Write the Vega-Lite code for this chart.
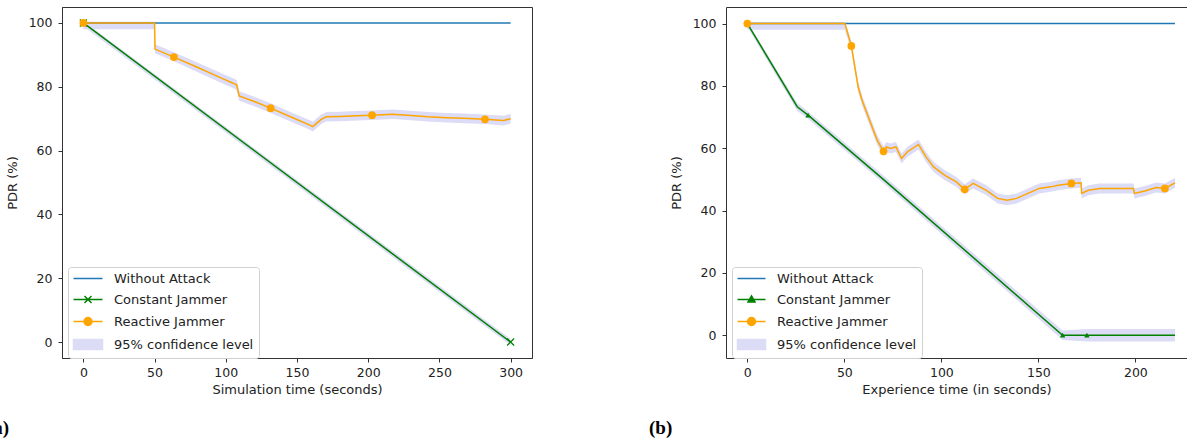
{
  "$schema": "https://vega.github.io/schema/vega-lite/v6.json",
  "padding": {"left": -14, "top": 6, "right": 0, "bottom": 0},
  "bounds": "flush",
  "spacing": 194,
  "background": "white",
  "config": {
    "font": "DejaVu Sans",
    "view": {"stroke": "#333333", "strokeWidth": 1},
    "axis": {"grid": false, "labelFont": "DejaVu Sans", "labelFontSize": 12.5, "labelColor": "#222222", "titleFont": "DejaVu Sans", "titleFontSize": 13, "titleFontWeight": "normal", "titleColor": "#222222", "tickColor": "#333333", "domainColor": "#333333", "tickSize": 4},
    "axisX": {"labelPadding": 4, "titlePadding": 5},
    "axisY": {"labelPadding": 6, "titlePadding": 9},
    "legend": {"labelFont": "DejaVu Sans", "labelFontSize": 13, "labelColor": "#222222", "fillColor": "white", "strokeColor": "#d0d0d0", "cornerRadius": 3, "padding": 5, "rowPadding": 7, "symbolSize": 100, "labelLimit": 300}
  },
  "resolve": {"scale": {"color": "independent", "x": "independent", "y": "independent"}, "legend": {"color": "independent"}},
  "datasets": {
    "a_lines": [
      {"s": "Without Attack", "t": 0, "pdr": 100}, {"s": "Without Attack", "t": 300, "pdr": 100},
      {"s": "Constant Jammer", "t": 0, "pdr": 100}, {"s": "Constant Jammer", "t": 300, "pdr": 0},
      {"s": "Reactive Jammer", "t": 0, "pdr": 100}, {"s": "Reactive Jammer", "t": 50, "pdr": 100},
      {"s": "Reactive Jammer", "t": 50.3, "pdr": 91.8}, {"s": "Reactive Jammer", "t": 63.6, "pdr": 89.3},
      {"s": "Reactive Jammer", "t": 80, "pdr": 86.1}, {"s": "Reactive Jammer", "t": 95, "pdr": 83.1},
      {"s": "Reactive Jammer", "t": 107.6, "pdr": 80.6}, {"s": "Reactive Jammer", "t": 109.4, "pdr": 77.1},
      {"s": "Reactive Jammer", "t": 120, "pdr": 75.4}, {"s": "Reactive Jammer", "t": 131.5, "pdr": 73.3},
      {"s": "Reactive Jammer", "t": 145, "pdr": 70.7}, {"s": "Reactive Jammer", "t": 159, "pdr": 68},
      {"s": "Reactive Jammer", "t": 161, "pdr": 67.5}, {"s": "Reactive Jammer", "t": 167, "pdr": 69.8},
      {"s": "Reactive Jammer", "t": 170.5, "pdr": 70.6}, {"s": "Reactive Jammer", "t": 180, "pdr": 70.7},
      {"s": "Reactive Jammer", "t": 192, "pdr": 70.9}, {"s": "Reactive Jammer", "t": 202.7, "pdr": 71.1},
      {"s": "Reactive Jammer", "t": 217, "pdr": 71.4}, {"s": "Reactive Jammer", "t": 230, "pdr": 71},
      {"s": "Reactive Jammer", "t": 242, "pdr": 70.6}, {"s": "Reactive Jammer", "t": 255, "pdr": 70.3},
      {"s": "Reactive Jammer", "t": 267, "pdr": 70.1}, {"s": "Reactive Jammer", "t": 282, "pdr": 69.8},
      {"s": "Reactive Jammer", "t": 295, "pdr": 69.4}, {"s": "Reactive Jammer", "t": 300, "pdr": 70}
    ],
    "a_band": [
      {"s": "Constant Jammer", "t": 0, "lo": 99, "hi": 100.6}, {"s": "Constant Jammer", "t": 300, "lo": -1, "hi": 1},
      {"s": "Reactive Jammer", "t": 0, "lo": 98, "hi": 100.4}, {"s": "Reactive Jammer", "t": 50, "lo": 98, "hi": 100.4},
      {"s": "Reactive Jammer", "t": 50.3, "lo": 90.5, "hi": 93.3}, {"s": "Reactive Jammer", "t": 63.6, "lo": 88, "hi": 90.8},
      {"s": "Reactive Jammer", "t": 80, "lo": 84.6, "hi": 87.6}, {"s": "Reactive Jammer", "t": 95, "lo": 81.6, "hi": 84.6},
      {"s": "Reactive Jammer", "t": 107.6, "lo": 79.1, "hi": 82.2}, {"s": "Reactive Jammer", "t": 109.4, "lo": 75.6, "hi": 78.6},
      {"s": "Reactive Jammer", "t": 120, "lo": 73.9, "hi": 76.9}, {"s": "Reactive Jammer", "t": 131.5, "lo": 71.8, "hi": 74.8},
      {"s": "Reactive Jammer", "t": 145, "lo": 69.2, "hi": 72.2}, {"s": "Reactive Jammer", "t": 159, "lo": 66.5, "hi": 69.5},
      {"s": "Reactive Jammer", "t": 161, "lo": 66, "hi": 69}, {"s": "Reactive Jammer", "t": 167, "lo": 68.3, "hi": 71.3},
      {"s": "Reactive Jammer", "t": 170.5, "lo": 69.1, "hi": 72.1}, {"s": "Reactive Jammer", "t": 180, "lo": 69.2, "hi": 72.2},
      {"s": "Reactive Jammer", "t": 192, "lo": 69.4, "hi": 72.4}, {"s": "Reactive Jammer", "t": 202.7, "lo": 69.6, "hi": 72.6},
      {"s": "Reactive Jammer", "t": 217, "lo": 69.9, "hi": 72.9}, {"s": "Reactive Jammer", "t": 230, "lo": 69.5, "hi": 72.5},
      {"s": "Reactive Jammer", "t": 242, "lo": 69.1, "hi": 72.1}, {"s": "Reactive Jammer", "t": 255, "lo": 68.8, "hi": 71.8},
      {"s": "Reactive Jammer", "t": 267, "lo": 68.6, "hi": 71.6}, {"s": "Reactive Jammer", "t": 282, "lo": 68.3, "hi": 71.3},
      {"s": "Reactive Jammer", "t": 295, "lo": 67.9, "hi": 70.9}, {"s": "Reactive Jammer", "t": 300, "lo": 68.5, "hi": 71.5}
    ],
    "a_marks": [
      {"s": "Constant Jammer", "t": 0, "pdr": 100}, {"s": "Constant Jammer", "t": 300, "pdr": 0},
      {"s": "Reactive Jammer", "t": 0, "pdr": 100}, {"s": "Reactive Jammer", "t": 63.6, "pdr": 89.3},
      {"s": "Reactive Jammer", "t": 131.5, "pdr": 73.3}, {"s": "Reactive Jammer", "t": 202.7, "pdr": 71.1},
      {"s": "Reactive Jammer", "t": 282, "pdr": 69.8}
    ],
    "b_lines": [
      {"s": "Without Attack", "t": 0, "pdr": 100}, {"s": "Without Attack", "t": 220.4, "pdr": 100},
      {"s": "Constant Jammer", "t": 0, "pdr": 100}, {"s": "Constant Jammer", "t": 25.7, "pdr": 73.3},
      {"s": "Constant Jammer", "t": 31.3, "pdr": 70.6}, {"s": "Constant Jammer", "t": 70.7, "pdr": 49.7},
      {"s": "Constant Jammer", "t": 162.5, "pdr": 0}, {"s": "Constant Jammer", "t": 175, "pdr": 0},
      {"s": "Constant Jammer", "t": 220.4, "pdr": 0},
      {"s": "Reactive Jammer", "t": 0, "pdr": 100}, {"s": "Reactive Jammer", "t": 50.3, "pdr": 100},
      {"s": "Reactive Jammer", "t": 53.6, "pdr": 92.8}, {"s": "Reactive Jammer", "t": 57.1, "pdr": 79.7},
      {"s": "Reactive Jammer", "t": 59.1, "pdr": 75.4}, {"s": "Reactive Jammer", "t": 63, "pdr": 69},
      {"s": "Reactive Jammer", "t": 66.9, "pdr": 62.6}, {"s": "Reactive Jammer", "t": 70.2, "pdr": 59},
      {"s": "Reactive Jammer", "t": 71.7, "pdr": 60.4}, {"s": "Reactive Jammer", "t": 73.7, "pdr": 59.9},
      {"s": "Reactive Jammer", "t": 76.6, "pdr": 60.4}, {"s": "Reactive Jammer", "t": 79.5, "pdr": 56.7},
      {"s": "Reactive Jammer", "t": 82.4, "pdr": 58.8}, {"s": "Reactive Jammer", "t": 88.2, "pdr": 61.2},
      {"s": "Reactive Jammer", "t": 92.1, "pdr": 57.2}, {"s": "Reactive Jammer", "t": 96, "pdr": 54},
      {"s": "Reactive Jammer", "t": 101.8, "pdr": 51.3}, {"s": "Reactive Jammer", "t": 107.7, "pdr": 49.2},
      {"s": "Reactive Jammer", "t": 112, "pdr": 46.8}, {"s": "Reactive Jammer", "t": 116.4, "pdr": 48.7},
      {"s": "Reactive Jammer", "t": 123.2, "pdr": 46.5}, {"s": "Reactive Jammer", "t": 129, "pdr": 43.9},
      {"s": "Reactive Jammer", "t": 133.9, "pdr": 43.3}, {"s": "Reactive Jammer", "t": 138.8, "pdr": 43.9},
      {"s": "Reactive Jammer", "t": 144.6, "pdr": 45.5}, {"s": "Reactive Jammer", "t": 150.4, "pdr": 47.1},
      {"s": "Reactive Jammer", "t": 156.3, "pdr": 47.6}, {"s": "Reactive Jammer", "t": 160.2, "pdr": 48.1},
      {"s": "Reactive Jammer", "t": 167, "pdr": 48.7}, {"s": "Reactive Jammer", "t": 172, "pdr": 48.9},
      {"s": "Reactive Jammer", "t": 172.3, "pdr": 45.5}, {"s": "Reactive Jammer", "t": 175.7, "pdr": 46.5},
      {"s": "Reactive Jammer", "t": 181.5, "pdr": 47.1}, {"s": "Reactive Jammer", "t": 187.4, "pdr": 47.1},
      {"s": "Reactive Jammer", "t": 199, "pdr": 47.1}, {"s": "Reactive Jammer", "t": 199.5, "pdr": 45.5},
      {"s": "Reactive Jammer", "t": 204.9, "pdr": 46.3}, {"s": "Reactive Jammer", "t": 210.7, "pdr": 47.4},
      {"s": "Reactive Jammer", "t": 215.2, "pdr": 47.1}, {"s": "Reactive Jammer", "t": 220.4, "pdr": 48.9}
    ],
    "b_band": [
      {"s": "Constant Jammer", "t": 0, "lo": 99, "hi": 100.6}, {"s": "Constant Jammer", "t": 25.7, "lo": 72, "hi": 74.5},
      {"s": "Constant Jammer", "t": 31.3, "lo": 69.4, "hi": 71.8}, {"s": "Constant Jammer", "t": 70.7, "lo": 48.5, "hi": 50.9},
      {"s": "Constant Jammer", "t": 162.5, "lo": -1.5, "hi": 1.5}, {"s": "Constant Jammer", "t": 175, "lo": -2, "hi": 2},
      {"s": "Constant Jammer", "t": 220.4, "lo": -2, "hi": 2},
      {"s": "Reactive Jammer", "t": 0, "lo": 98, "hi": 100.4}, {"s": "Reactive Jammer", "t": 50.3, "lo": 98, "hi": 100.4},
      {"s": "Reactive Jammer", "t": 53.6, "lo": 91.2, "hi": 94.4}, {"s": "Reactive Jammer", "t": 57.1, "lo": 78.1, "hi": 81.3},
      {"s": "Reactive Jammer", "t": 59.1, "lo": 73.8, "hi": 77}, {"s": "Reactive Jammer", "t": 63, "lo": 67.4, "hi": 70.6},
      {"s": "Reactive Jammer", "t": 66.9, "lo": 61, "hi": 64.2}, {"s": "Reactive Jammer", "t": 70.2, "lo": 57.4, "hi": 60.6},
      {"s": "Reactive Jammer", "t": 71.7, "lo": 58.8, "hi": 62}, {"s": "Reactive Jammer", "t": 73.7, "lo": 58.3, "hi": 61.5},
      {"s": "Reactive Jammer", "t": 76.6, "lo": 58.8, "hi": 62}, {"s": "Reactive Jammer", "t": 79.5, "lo": 55.1, "hi": 58.3},
      {"s": "Reactive Jammer", "t": 82.4, "lo": 57.2, "hi": 60.4}, {"s": "Reactive Jammer", "t": 88.2, "lo": 59.6, "hi": 62.8},
      {"s": "Reactive Jammer", "t": 92.1, "lo": 55.6, "hi": 58.8}, {"s": "Reactive Jammer", "t": 96, "lo": 52.4, "hi": 55.6},
      {"s": "Reactive Jammer", "t": 101.8, "lo": 49.7, "hi": 52.9}, {"s": "Reactive Jammer", "t": 107.7, "lo": 47.6, "hi": 50.8},
      {"s": "Reactive Jammer", "t": 112, "lo": 45.2, "hi": 48.4}, {"s": "Reactive Jammer", "t": 116.4, "lo": 47.1, "hi": 50.3},
      {"s": "Reactive Jammer", "t": 123.2, "lo": 44.9, "hi": 48.1}, {"s": "Reactive Jammer", "t": 129, "lo": 42.3, "hi": 45.5},
      {"s": "Reactive Jammer", "t": 133.9, "lo": 41.7, "hi": 44.9}, {"s": "Reactive Jammer", "t": 138.8, "lo": 42.3, "hi": 45.5},
      {"s": "Reactive Jammer", "t": 144.6, "lo": 43.9, "hi": 47.1}, {"s": "Reactive Jammer", "t": 150.4, "lo": 45.5, "hi": 48.7},
      {"s": "Reactive Jammer", "t": 156.3, "lo": 46, "hi": 49.2}, {"s": "Reactive Jammer", "t": 160.2, "lo": 46.5, "hi": 49.7},
      {"s": "Reactive Jammer", "t": 167, "lo": 47.1, "hi": 50.3}, {"s": "Reactive Jammer", "t": 172, "lo": 47.3, "hi": 50.5},
      {"s": "Reactive Jammer", "t": 172.3, "lo": 43.9, "hi": 47.1}, {"s": "Reactive Jammer", "t": 175.7, "lo": 44.9, "hi": 48.1},
      {"s": "Reactive Jammer", "t": 181.5, "lo": 45.5, "hi": 48.7}, {"s": "Reactive Jammer", "t": 187.4, "lo": 45.5, "hi": 48.7},
      {"s": "Reactive Jammer", "t": 199, "lo": 45.5, "hi": 48.7}, {"s": "Reactive Jammer", "t": 199.5, "lo": 43.9, "hi": 47.1},
      {"s": "Reactive Jammer", "t": 204.9, "lo": 44.7, "hi": 47.9}, {"s": "Reactive Jammer", "t": 210.7, "lo": 45.8, "hi": 49},
      {"s": "Reactive Jammer", "t": 215.2, "lo": 45.5, "hi": 48.7}, {"s": "Reactive Jammer", "t": 220.4, "lo": 47.3, "hi": 50.5}
    ],
    "b_marks": [
      {"s": "Constant Jammer", "t": 0, "pdr": 100}, {"s": "Constant Jammer", "t": 31.3, "pdr": 70.6},
      {"s": "Constant Jammer", "t": 162.5, "pdr": 0}, {"s": "Constant Jammer", "t": 175, "pdr": 0},
      {"s": "Reactive Jammer", "t": 0, "pdr": 100}, {"s": "Reactive Jammer", "t": 53.6, "pdr": 92.8},
      {"s": "Reactive Jammer", "t": 70.2, "pdr": 59}, {"s": "Reactive Jammer", "t": 112, "pdr": 46.8},
      {"s": "Reactive Jammer", "t": 167, "pdr": 48.7}, {"s": "Reactive Jammer", "t": 215.2, "pdr": 47.1}
    ]
  },
  "hconcat": [
    {
      "width": 470,
      "height": 351,
      "title": {"text": "(a)", "orient": "bottom", "anchor": "start", "frame": "group", "dx": -75, "offset": 22, "font": "Liberation Serif", "fontSize": 19, "fontWeight": "bold", "color": "#000000"},
      "layer": [
        {
          "data": {"name": "a_band"},
          "mark": {"type": "area", "color": "#dcdcf6", "opacity": 1},
          "encoding": {
            "x": {"field": "t", "type": "quantitative", "scale": {"domain": [-15, 315], "nice": false, "zero": false}, "axis": {"values": [0, 50, 100, 150, 200, 250, 300], "title": "Simulation time (seconds)"}},
            "y": {"field": "lo", "type": "quantitative", "scale": {"domain": [-5, 105], "nice": false, "zero": false}, "axis": {"values": [0, 20, 40, 60, 80, 100], "title": "PDR (%)"}},
            "y2": {"field": "hi"},
            "detail": {"field": "s", "type": "nominal"}
          }
        },
        {
          "data": {"name": "a_lines"},
          "mark": {"type": "line", "strokeWidth": 1.5},
          "encoding": {
            "x": {"field": "t", "type": "quantitative", "scale": {"domain": [-15, 315], "nice": false, "zero": false}, "axis": {"values": [0, 50, 100, 150, 200, 250, 300], "title": "Simulation time (seconds)"}},
            "y": {"field": "pdr", "type": "quantitative", "scale": {"domain": [-5, 105], "nice": false, "zero": false}, "axis": {"values": [0, 20, 40, 60, 80, 100], "title": "PDR (%)"}},
            "color": {
              "field": "s", "type": "nominal",
              "scale": {"domain": ["Without Attack", "Constant Jammer", "Reactive Jammer", "95% confidence level"], "range": ["#1f77b4", "#008000", "#ffa500", "#dcdcf6"]},
              "legend": {
                "title": null, "orient": "none", "legendX": 6, "legendY": 260, "labelOffset": 28,
                "encode": {"symbols": {"update": {
                  "shape": {"signal": "datum.value === 'Without Attack' ? 'M-1.2,0H4.6' : datum.value === 'Constant Jammer' ? 'M-1.2,0H4.6M1,-0.7L2.4,0.7M1,0.7L2.4,-0.7' : datum.value === 'Reactive Jammer' ? 'M-1.2,0H4.6M0.9,0A0.8,0.8 0 1,0 2.5,0A0.8,0.8 0 1,0 0.9,0Z' : 'M-1.2,-1H4.6V1H-1.2Z'"},
                  "fill": {"signal": "datum.value === 'Reactive Jammer' ? '#ffa500' : datum.value === '95% confidence level' ? '#dcdcf6' : 'transparent'"},
                  "stroke": {"signal": "datum.value === 'Without Attack' ? '#1f77b4' : datum.value === 'Constant Jammer' ? '#008000' : datum.value === 'Reactive Jammer' ? '#ffa500' : 'transparent'"},
                  "strokeWidth": {"value": 1.5},
                  "opacity": {"value": 1}
                }}}
              }
            }
          }
        },
        {
          "data": {"name": "a_marks"},
          "transform": [{"filter": "datum.s === 'Constant Jammer'"}],
          "mark": {"type": "point", "shape": "M-1,-1L1,1M-1,1L1,-1", "filled": false, "size": 49, "color": "#008000", "strokeWidth": 1.3, "opacity": 1},
          "encoding": {
            "x": {"field": "t", "type": "quantitative", "scale": {"domain": [-15, 315], "nice": false, "zero": false}, "axis": {"values": [0, 50, 100, 150, 200, 250, 300], "title": "Simulation time (seconds)"}},
            "y": {"field": "pdr", "type": "quantitative", "scale": {"domain": [-5, 105], "nice": false, "zero": false}, "axis": {"values": [0, 20, 40, 60, 80, 100], "title": "PDR (%)"}}
          }
        },
        {
          "data": {"name": "a_marks"},
          "transform": [{"filter": "datum.s === 'Reactive Jammer'"}],
          "mark": {"type": "point", "shape": "circle", "filled": true, "size": 60, "color": "#ffa500", "opacity": 1},
          "encoding": {
            "x": {"field": "t", "type": "quantitative", "scale": {"domain": [-15, 315], "nice": false, "zero": false}, "axis": {"values": [0, 50, 100, 150, 200, 250, 300], "title": "Simulation time (seconds)"}},
            "y": {"field": "pdr", "type": "quantitative", "scale": {"domain": [-5, 105], "nice": false, "zero": false}, "axis": {"values": [0, 20, 40, 60, 80, 100], "title": "PDR (%)"}}
          }
        }
      ]
    },
    {
      "width": 461,
      "height": 351,
      "view": {"stroke": null},
      "resolve": {"axis": {"x": "independent"}},
      "title": {"text": "(b)", "orient": "bottom", "anchor": "start", "frame": "group", "dx": -77, "offset": 22, "font": "Liberation Serif", "fontSize": 19, "fontWeight": "bold", "color": "#000000"},
      "layer": [
        {
          "data": {"name": "b_band"},
          "mark": {"type": "area", "color": "#dcdcf6", "opacity": 1},
          "encoding": {
            "x": {"field": "t", "type": "quantitative", "scale": {"domain": [-11, 226.6], "nice": false, "zero": false}, "axis": {"orient": "top", "labels": false, "ticks": false, "title": null, "domain": true}},
            "y": {"field": "lo", "type": "quantitative", "scale": {"domain": [-7.3, 105.3], "nice": false, "zero": false}, "axis": {"values": [0, 20, 40, 60, 80, 100], "title": "PDR (%)"}},
            "y2": {"field": "hi"},
            "detail": {"field": "s", "type": "nominal"}
          }
        },
        {
          "data": {"name": "b_lines"},
          "mark": {"type": "line", "strokeWidth": 1.5},
          "encoding": {
            "x": {"field": "t", "type": "quantitative", "scale": {"domain": [-11, 226.6], "nice": false, "zero": false}, "axis": {"orient": "bottom", "values": [0, 50, 100, 150, 200], "title": "Experience time (in seconds)"}},
            "y": {"field": "pdr", "type": "quantitative", "scale": {"domain": [-7.3, 105.3], "nice": false, "zero": false}, "axis": {"values": [0, 20, 40, 60, 80, 100], "title": "PDR (%)"}},
            "color": {
              "field": "s", "type": "nominal",
              "scale": {"domain": ["Without Attack", "Constant Jammer", "Reactive Jammer", "95% confidence level"], "range": ["#1f77b4", "#008000", "#ffa500", "#dcdcf6"]},
              "legend": {
                "title": null, "orient": "none", "legendX": 6, "legendY": 260, "labelOffset": 27,
                "encode": {"symbols": {"update": {
                  "shape": {"signal": "datum.value === 'Without Attack' ? 'M-1.2,0H4.4' : datum.value === 'Constant Jammer' ? 'M-1.2,0H4.4M1.6,-0.7L2.3,0.5L0.9,0.5Z' : datum.value === 'Reactive Jammer' ? 'M-1.2,0H4.4M0.8,0A0.8,0.8 0 1,0 2.4,0A0.8,0.8 0 1,0 0.8,0Z' : 'M-1.2,-1H4.4V1H-1.2Z'"},
                  "fill": {"signal": "datum.value === 'Reactive Jammer' ? '#ffa500' : datum.value === 'Constant Jammer' ? '#008000' : datum.value === '95% confidence level' ? '#dcdcf6' : 'transparent'"},
                  "stroke": {"signal": "datum.value === 'Without Attack' ? '#1f77b4' : datum.value === 'Constant Jammer' ? '#008000' : datum.value === 'Reactive Jammer' ? '#ffa500' : 'transparent'"},
                  "strokeWidth": {"value": 1.5},
                  "opacity": {"value": 1}
                }}}
              }
            }
          }
        },
        {
          "data": {"name": "b_marks"},
          "transform": [{"filter": "datum.s === 'Constant Jammer'"}],
          "mark": {"type": "point", "shape": "triangle-up", "filled": true, "size": 30, "color": "#008000", "opacity": 1},
          "encoding": {
            "x": {"field": "t", "type": "quantitative", "scale": {"domain": [-11, 226.6], "nice": false, "zero": false}, "axis": null},
            "y": {"field": "pdr", "type": "quantitative", "scale": {"domain": [-7.3, 105.3], "nice": false, "zero": false}, "axis": {"values": [0, 20, 40, 60, 80, 100], "title": "PDR (%)"}}
          }
        },
        {
          "data": {"name": "b_marks"},
          "transform": [{"filter": "datum.s === 'Reactive Jammer'"}],
          "mark": {"type": "point", "shape": "circle", "filled": true, "size": 60, "color": "#ffa500", "opacity": 1},
          "encoding": {
            "x": {"field": "t", "type": "quantitative", "scale": {"domain": [-11, 226.6], "nice": false, "zero": false}, "axis": null},
            "y": {"field": "pdr", "type": "quantitative", "scale": {"domain": [-7.3, 105.3], "nice": false, "zero": false}, "axis": {"values": [0, 20, 40, 60, 80, 100], "title": "PDR (%)"}}
          }
        }
      ]
    }
  ]
}
